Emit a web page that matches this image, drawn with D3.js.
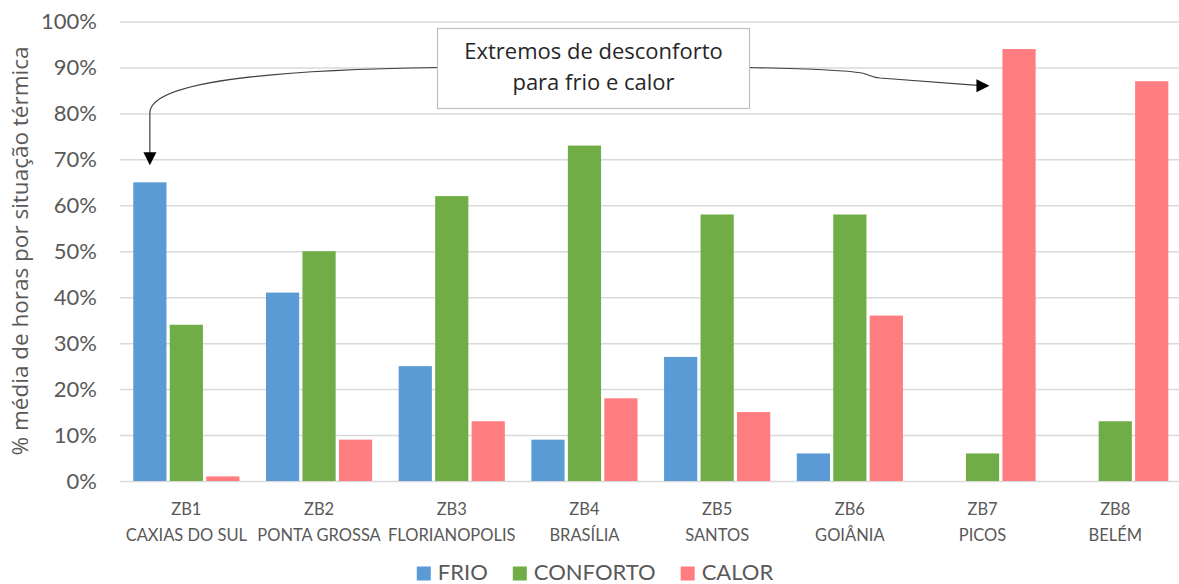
<!DOCTYPE html>
<html>
<head>
<meta charset="utf-8">
<script src="https://cdn.jsdelivr.net/npm/d3@7"></script>
<style>
  html, body { margin: 0; padding: 0; background: #ffffff; }
  svg { display: block; font-family: Lato, "Open Sans", sans-serif; }
</style>
</head>
<body>
<svg id="chart" width="1179" height="584"></svg>
<script>
// Bioclimatic zones and their representative cities
const zones = ["ZB1", "ZB2", "ZB3", "ZB4", "ZB5", "ZB6", "ZB7", "ZB8"];
const cities = ["CAXIAS DO SUL", "PONTA GROSSA", "FLORIANOPOLIS", "BRASÍLIA", "SANTOS", "GOIÂNIA", "PICOS", "BELÉM"];

// Share of hours per thermal condition (fraction of total)
const seriesNames = ["FRIO", "CONFORTO", "CALOR"];
const frio     = [0.65, 0.41, 0.25, 0.09, 0.27, 0.06, 0.00, 0.00];
const conforto = [0.34, 0.50, 0.62, 0.73, 0.58, 0.58, 0.06, 0.13];
const calor    = [0.01, 0.09, 0.13, 0.18, 0.15, 0.36, 0.94, 0.87];
const seriesColors = ["#5B9BD5", "#70AD47", "#FF7C80"];

const yTicks = [0, 0.1, 0.2, 0.3, 0.4, 0.5, 0.6, 0.7, 0.8, 0.9, 1.0];
const yTitle = "% média de horas por situação térmica";
const noteLines = ["Extremos de desconforto", "para frio e calor"];

const svg = d3.select("#chart");
const textColor = "#595959";

const plot = { left: 120, right: 1181.6, top: 21.5, bottom: 481 };

const x0 = d3.scaleBand().domain(zones)
  .range([plot.left, plot.right]).paddingInner(0.2).paddingOuter(0.1);
const x1 = d3.scaleBand().domain(seriesNames)
  .range([0, x0.bandwidth()]).paddingInner(0.09);
const y = d3.scaleLinear().domain([0, 1]).range([plot.bottom, plot.top]);
const color = d3.scaleOrdinal().domain(seriesNames).range(seriesColors);

// Horizontal gridlines + percent labels
const yAxis = d3.axisLeft(y).tickValues(yTicks)
  .tickFormat(d3.format(".0%"))
  .tickSize(-(plot.right - plot.left)).tickPadding(23);
const gy = svg.append("g").attr("transform", `translate(${plot.left},0)`).call(yAxis);
gy.select(".domain").remove();
gy.selectAll(".tick line").attr("stroke", "#D9D9D9").attr("stroke-width", 1.5);
gy.selectAll(".tick text").attr("fill", textColor)
  .style("font-size", "22px").style("font-family", "Lato, sans-serif");

// Y axis title
svg.append("text")
  .attr("transform", `translate(28, 251) rotate(-90)`)
  .attr("text-anchor", "middle")
  .attr("fill", textColor)
  .style("font-family", "'Open Sans', sans-serif")
  .style("font-size", "22.5px")
  .text(yTitle);

// Bars
const rows = zones.map((z, i) => ({
  zone: z,
  values: [frio[i], conforto[i], calor[i]].map((v, k) => ({ key: seriesNames[k], value: v }))
}));

const groups = svg.append("g").selectAll("g").data(rows).join("g")
  .attr("transform", d => `translate(${x0(d.zone)},0)`);
groups.selectAll("rect").data(d => d.values.filter(v => v.value > 0)).join("rect")
  .attr("x", d => x1(d.key))
  .attr("width", x1.bandwidth())
  .attr("y", d => y(d.value))
  .attr("height", d => y(0) - y(d.value))
  .attr("fill", d => color(d.key));

// Category labels (zone + city on two lines)
const labels = svg.append("g").selectAll("text").data(zones).join("text")
  .attr("text-anchor", "middle")
  .attr("fill", textColor)
  .style("font-size", "16.5px");
labels.append("tspan")
  .attr("x", d => x0(d) + x0.bandwidth() / 2).attr("y", 515)
  .text(d => d);
labels.append("tspan")
  .attr("x", d => x0(d) + x0.bandwidth() / 2).attr("y", 541)
  .text((d, i) => cities[i]);

// Legend
const legend = svg.append("g");
const items = legend.selectAll("g").data(seriesNames).join("g");
items.append("rect").attr("width", 14).attr("height", 14).attr("y", 566.5)
  .attr("fill", d => color(d));
items.append("text").attr("x", 21).attr("y", 579.5)
  .attr("fill", textColor).style("font-size", "22px").text(d => d);
let cursor = 0;
items.each(function () {
  const g = d3.select(this);
  g.attr("transform", `translate(${cursor},0)`);
  cursor += 21 + g.select("text").node().getComputedTextLength() + 25;
});
const legendWidth = cursor - 25;
legend.attr("transform", `translate(${595 - legendWidth / 2},0)`);

// Callout box with connectors to the two extreme bars
const box = { x: 437.5, y: 28.5, w: 312, h: 80 };
const lineColor = "#404040";

const leftTip = { x: x0("ZB1") + x1("FRIO") + x1.bandwidth() / 2, y: y(frio[0]) - 17 };
const rightTip = { x: x0("ZB7") + x1("CALOR") - 13, y: y(0.86) };

svg.append("path")
  .attr("d", `M${box.x},${box.y + 39} C300,69.5 ${leftTip.x},78 ${leftTip.x},113 L${leftTip.x},${leftTip.y - 12}`)
  .attr("fill", "none").attr("stroke", lineColor).attr("stroke-width", 1.2);
svg.append("path")
  .attr("d", `M${leftTip.x - 6.5},${leftTip.y - 13} L${leftTip.x + 6.5},${leftTip.y - 13} L${leftTip.x},${leftTip.y} Z`)
  .attr("fill", "#000");

const rStart = box.x + box.w;
svg.append("path")
  .attr("d", `M${rStart},${box.y + 39} C800,${box.y + 40} 850,71 862,73 C868,74 870,77 880,78 L${rightTip.x - 12},${rightTip.y - 0.5}`)
  .attr("fill", "none").attr("stroke", lineColor).attr("stroke-width", 1.2);
svg.append("path")
  .attr("d", `M${rightTip.x - 13},${rightTip.y - 6.5} L${rightTip.x - 13},${rightTip.y + 6.5} L${rightTip.x},${rightTip.y} Z`)
  .attr("fill", "#000");

svg.append("rect")
  .attr("x", box.x).attr("y", box.y).attr("width", box.w).attr("height", box.h)
  .attr("fill", "#ffffff").attr("stroke", "#BFBFBF").attr("stroke-width", 1.2);
svg.append("text")
  .attr("text-anchor", "middle").attr("fill", "#262626")
  .style("font-family", "'Open Sans', sans-serif")
  .style("font-size", "22px")
  .selectAll("tspan").data(noteLines).join("tspan")
  .attr("x", box.x + box.w / 2)
  .attr("y", (d, i) => 59 + i * 31)
  .text(d => d);
</script>
</body>
</html>
